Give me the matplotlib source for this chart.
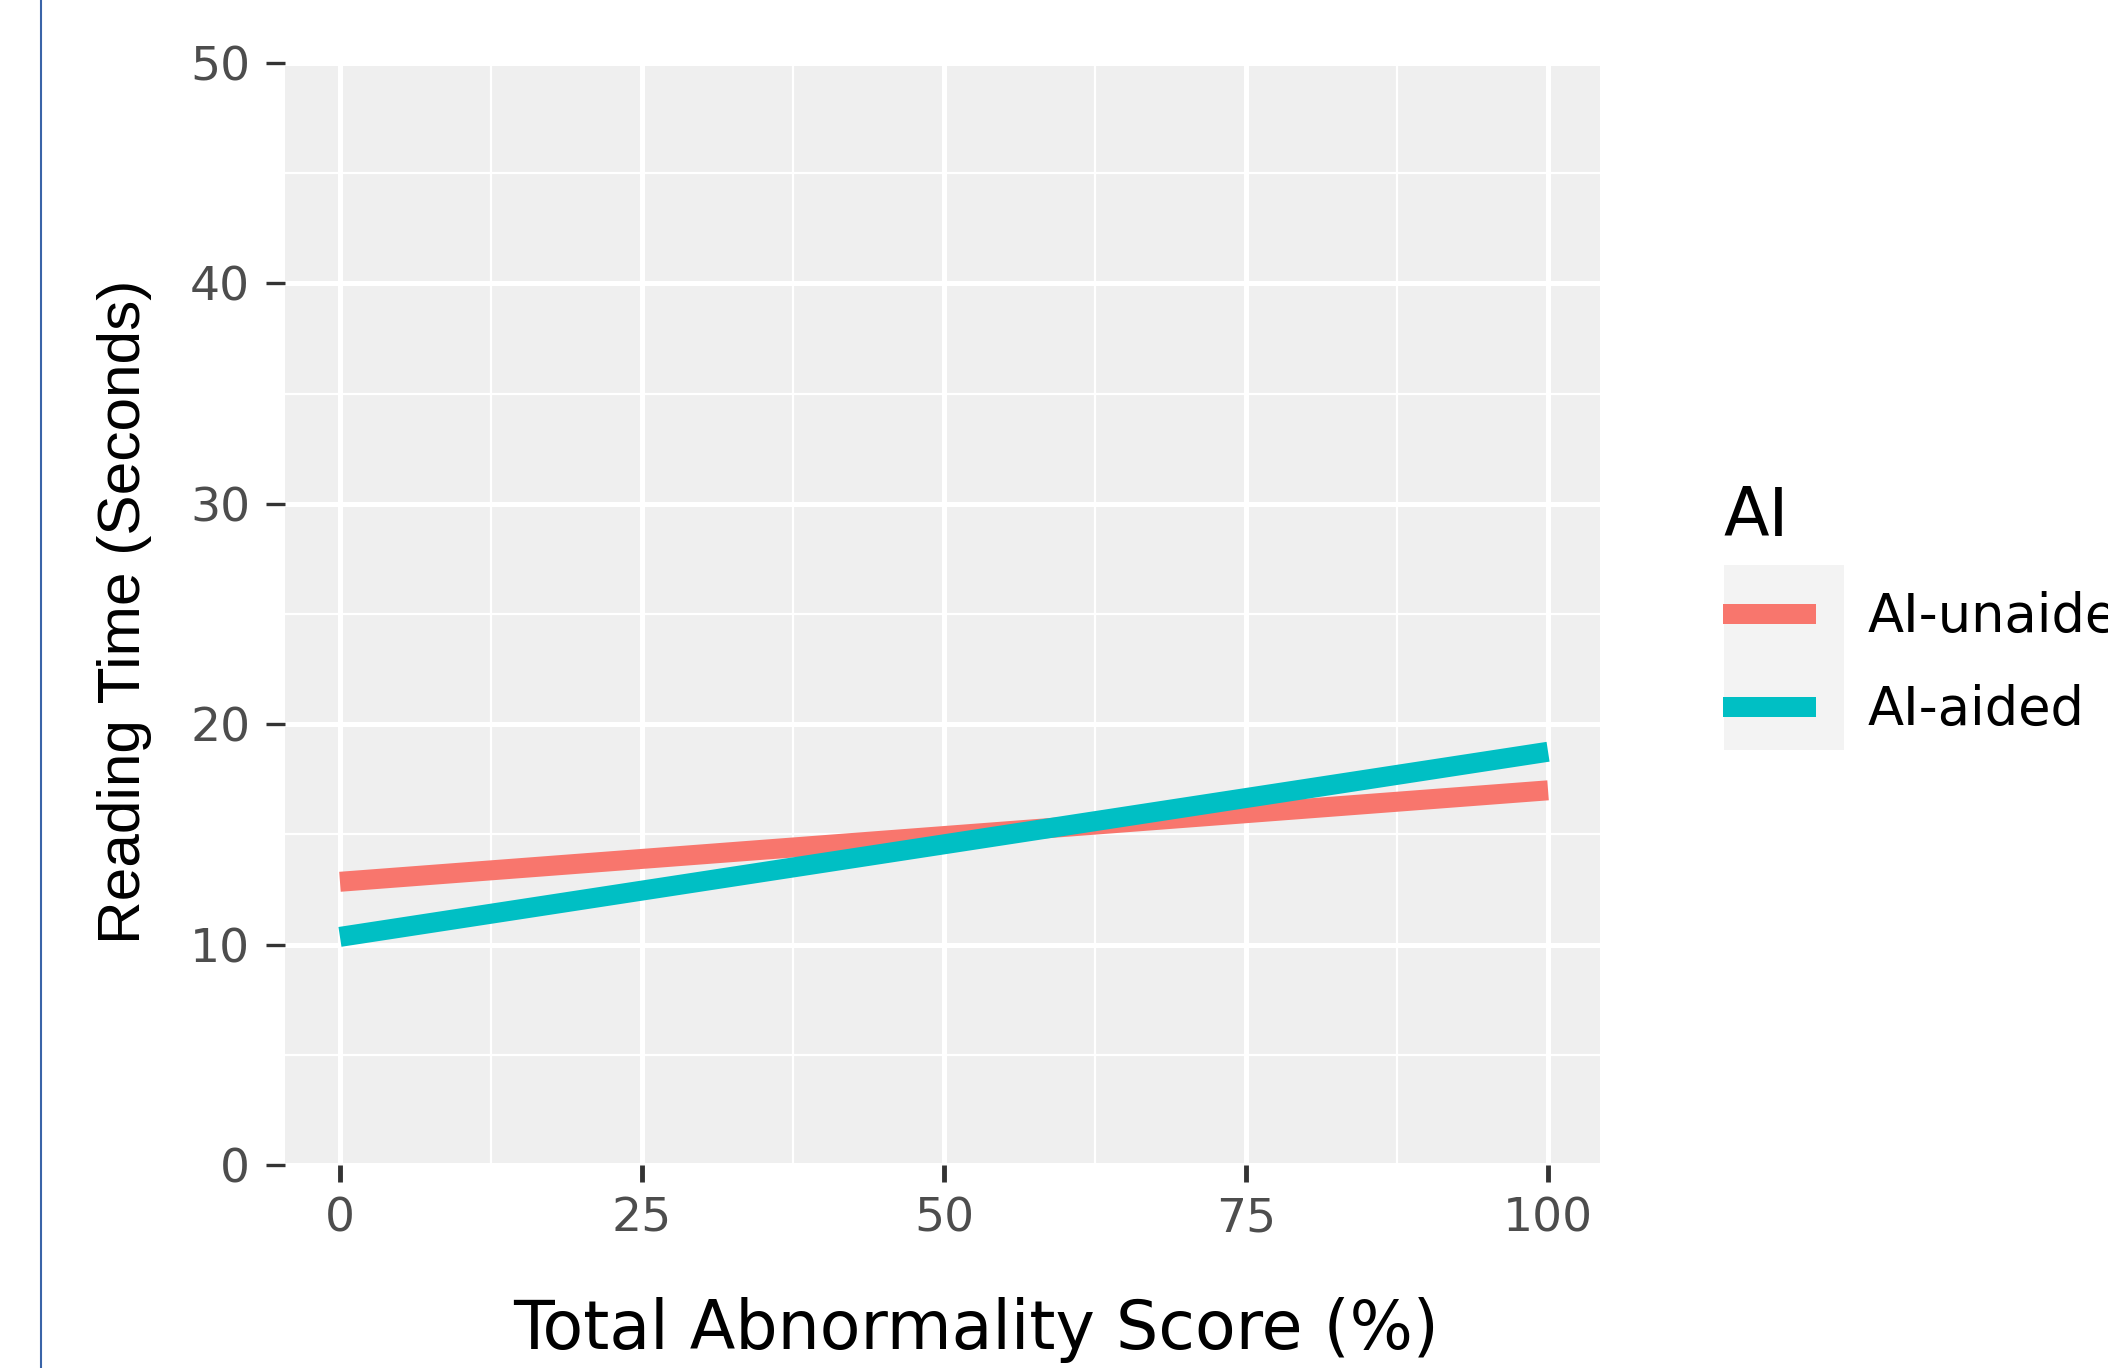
import matplotlib
matplotlib.use("Agg")
import matplotlib.pyplot as plt
from matplotlib.lines import Line2D
from matplotlib.patches import Rectangle

# fitted reading time vs abnormality score
score = [0, 100]
ai_unaided = [12.85, 17.0]
ai_aided = [10.35, 18.75]
series_names = ["AI-unaided", "AI-aided"]
series_colors = ["#F8766D", "#00BFC4"]

x_ticks = [0, 25, 50, 75, 100]
x_minor = [12.5, 37.5, 62.5, 87.5]
y_ticks = [0, 10, 20, 30, 40, 50]
y_minor = [5, 15, 25, 35, 45]

plt.rcParams["font.family"] = ["DejaVu Sans"]

W, H = 2108, 1368
fig = plt.figure(figsize=(W / 100, H / 100), dpi=100)
fig.patch.set_facecolor("white")

ax = fig.add_axes([285 / W, 1 - 1165 / H, 1315 / W, 1102 / H])
ax.set_facecolor("#EFEFEF")
for s in ax.spines.values():
    s.set_visible(False)

ax.set_xlim(-4.55, 104.3)
ax.set_ylim(0, 50)
ax.set_xticks(x_ticks)
ax.set_yticks(y_ticks)
ax.set_xticks(x_minor, minor=True)
ax.set_yticks(y_minor, minor=True)
ax.grid(which="major", color="white", linewidth=3.6)
ax.grid(which="minor", color="white", linewidth=1.6)
ax.set_axisbelow(True)

ax.tick_params(axis="both", which="minor", length=0)
ax.tick_params(axis="y", which="major", length=14, width=2.4, color="#333333",
               pad=11, labelsize=34, labelcolor="#4D4D4D")
ax.tick_params(axis="x", which="major", length=12, width=3.5, color="#333333",
               pad=11, labelsize=34, labelcolor="#4D4D4D")

for ys, name, col in zip([ai_unaided, ai_aided], series_names, series_colors):
    ax.plot(score, ys, color=col, linewidth=14.4, solid_capstyle="butt", label=name)

fig.text(976 / W, 1 - 1330 / H, "Total Abnormality Score (%)", fontsize=48,
         ha="center", va="center", color="black")
fig.text(125 / W, 1 - 612 / H, "Reading Time (Seconds)", fontsize=43.5,
         family="Liberation Sans", rotation=90, ha="center", va="center",
         color="black")

# legend key background
fig.add_artist(Rectangle((1724 / W, 1 - 750 / H), 120 / W, 185 / H,
                         transform=fig.transFigure, facecolor="#F3F3F3",
                         edgecolor="none", zorder=-1))

# labels run past the right edge, as in the source image
leg = ax.legend(loc="center left", bbox_to_anchor=(1723 / W, 1 - 610 / H),
                bbox_transform=fig.transFigure, frameon=False, title="AI",
                title_fontsize=48, fontsize=38, handlelength=1.76,
                handletextpad=0.98, labelspacing=0.78, borderpad=0,
                borderaxespad=0, alignment="left")
leg.set_clip_on(False)

# thin blue page border on the left
fig.add_artist(Line2D([41 / W, 41 / W], [0, 1], transform=fig.transFigure,
                      color="#3A64A8", linewidth=1.5))

fig.savefig("out.png", dpi=100)
